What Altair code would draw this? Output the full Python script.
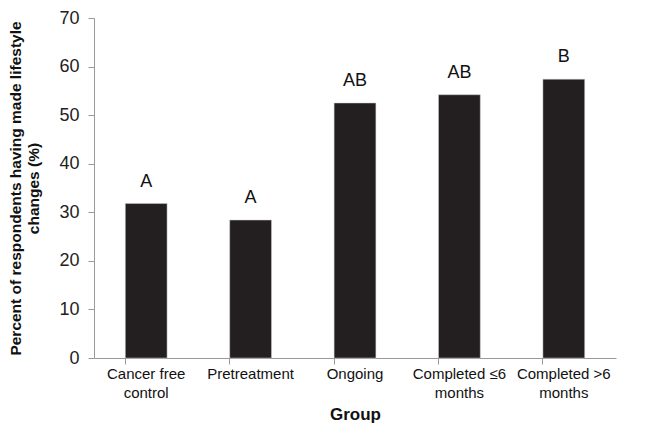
import altair as alt
import pandas as pd

groups = ["Cancer free|control", "Pretreatment", "Ongoing", "Completed ≤6|months", "Completed >6|months"]
values = [31.8, 28.4, 52.5, 54.2, 57.4]
letters = ["A", "A", "AB", "AB", "B"]

df = pd.DataFrame({"group": groups, "value": values, "letter": letters})

FONT = "Liberation Sans"
xscale = alt.Scale(paddingInner=0.6, paddingOuter=0.3)
yscale = alt.Scale(domain=[0, 70])
yaxis = alt.Axis(title=["Percent of respondents having made lifestyle", "changes (%)"],
                 values=[0, 10, 20, 30, 40, 50, 60, 70], grid=False,
                 domainColor="#999999", tickColor="#999999", tickSize=6,
                 labelFontSize=18, labelColor="#222222", labelFont=FONT,
                 labelPadding=9, titleFont=FONT, titleFontSize=15.5,
                 titleFontWeight="bold", titleColor="#111111",
                 titleLineHeight=18, titlePadding=17)

bars = alt.Chart(df).mark_bar(color="#231f20", stroke="#cccccc", strokeWidth=0.5).encode(
    x=alt.X("group:N", sort=groups, scale=xscale,
            axis=alt.Axis(title="Group", orient="bottom", ticks=False, domain=True,
                          domainColor="#999999", labelAngle=0, labelFontSize=15,
                          labelColor="#111111", labelFont=FONT, labelPadding=8,
                          labelExpr="split(datum.value, '|')", labelLineHeight=19,
                          titleFont=FONT, titleFontSize=17, titleFontWeight="bold",
                          titleColor="#111111", titlePadding=6)),
    y=alt.Y("value:Q", scale=yscale, axis=yaxis),
)

ticks_layer = alt.Chart(df).mark_bar(opacity=0).encode(
    x=alt.X("group:N", sort=groups, scale=xscale,
            axis=alt.Axis(title=None, orient="bottom", labels=False, domain=False,
                          ticks=True, tickColor="#999999", tickSize=6, bandPosition=0)),
    y=alt.Y("value:Q", scale=yscale, axis=yaxis),
)

text = alt.Chart(df).mark_text(font=FONT, fontSize=18, color="#111111", dy=-17,
                               baseline="alphabetic").encode(
    x=alt.X("group:N", sort=groups, scale=xscale, axis=None),
    y=alt.Y("value:Q", scale=yscale, axis=yaxis),
    text="letter:N",
)

chart = alt.layer(bars, ticks_layer, text).resolve_axis(x="independent").properties(
    width=522, height=340,
    autosize=alt.AutoSizeParams(type="none"),
    padding={"left": 86, "top": 10, "right": 30, "bottom": 67},
).configure_view(stroke=None)

chart.save("out.html", embed_options={"renderer": "svg", "actions": False})
